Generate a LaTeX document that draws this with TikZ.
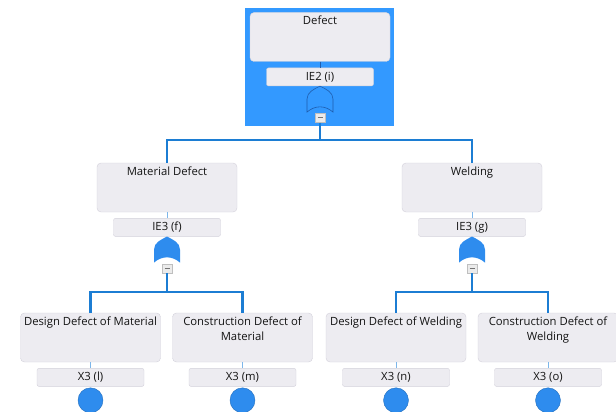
\documentclass[tikz,border=0pt]{standalone}
\usepackage{fontspec}
\setmainfont{Open Sans}
\usetikzlibrary{positioning, calc}

\definecolor{busblue}{HTML}{1C7DD3}
\definecolor{linkblue}{HTML}{7DB6EA}
\definecolor{gateblue}{HTML}{2E8CEE}
\definecolor{gateline}{HTML}{1F5DAE}
\definecolor{hiblue}{HTML}{3399FF}
\definecolor{boxfill}{HTML}{EDECF1}
\definecolor{boxline}{HTML}{D2D0DA}

\tikzset{
  pics/orgate/.style={code={
    \path[pic actions] (-13,26) -- (-13,13)
      .. controls (-13,6) and (-6,3) .. (0,0)
      .. controls (6,3) and (13,6) .. (13,13)
      -- (13,26) .. controls (5,19) and (-5,19) .. cycle;
  }}
}

\begin{document}
\begin{tikzpicture}[x=1pt, y=-1pt, font=\fontsize{11.3}{15.5}\selectfont,
  event/.style={draw=boxline, fill=boxfill, rounded corners=4pt,
    minimum width=140pt, minimum height=49pt, inner sep=0pt},
  evtitle/.style={anchor=north, inner sep=3.5pt, align=center, text=black!92},
  code/.style={draw=boxline, fill=boxfill, rounded corners=2pt,
    minimum width=107pt, minimum height=18pt, inner sep=0pt, text=black!92},
  minus/.style={draw=black!25, fill=black!8, minimum width=10pt,
    minimum height=9pt, inner sep=0pt},
  basic/.style={circle, draw=gateblue!80!black, fill=gateblue,
    minimum size=25pt, inner sep=0pt},
  bus/.style={busblue, line width=2.6pt},
  link/.style={linkblue, line width=1pt}]

  \useasboundingbox (0,0) rectangle (616,412);

  % selected top event
  \fill[hiblue] (245,8) rectangle (394,126);

  % top event
  \node[event, label={[evtitle]north:Defect}] (top) at (320,37) {};
  \node[code, below=6pt of top] (topc) {IE2 (i)};
  \pic[draw=gateline, line width=0.6pt] at (topc.south) {orgate};
  \node[minus, below=27pt of topc] (topm) {\textcolor{black!55}{\rule{5pt}{1.1pt}}};
  \draw[link, gateline] (top) -- (topc);

  % second level
  \node[event, label={[evtitle]north:Material Defect}] (md) at (167,187.5) {};
  \node[code, below=6pt of md] (mdc) {IE3 (f)};
  \pic[fill=gateblue] at (mdc.south) {orgate};
  \node[minus, below=27pt of mdc] (mdm) {\textcolor{black!55}{\rule{5pt}{1.1pt}}};
  \draw[link] (md) -- (mdc);

  \node[event, label={[evtitle]north:Welding}] (wd) at (472,187.5) {};
  \node[code, below=6pt of wd] (wdc) {IE3 (g)};
  \pic[fill=gateblue] at (wdc.south) {orgate};
  \node[minus, below=27pt of wdc] (wdm) {\textcolor{black!55}{\rule{5pt}{1.1pt}}};
  \draw[link] (wd) -- (wdc);

  % basic events
  \node[event, label={[evtitle]north:Design Defect of Material}] (ddm) at (90.5,337.5) {};
  \node[event, label={[evtitle]north:Construction Defect of\\Material}] (cdm) at (242.5,337.5) {};
  \node[event, label={[evtitle]north:Design Defect of Welding}] (ddw) at (396,337.5) {};
  \node[event, label={[evtitle]north:Construction Defect of\\Welding}] (cdw) at (548,337.5) {};

  \node[code, below=6pt of ddm] (ddmc) {X3 (l)};
  \node[code, below=6pt of cdm] (cdmc) {X3 (m)};
  \node[code, below=6pt of ddw] (ddwc) {X3 (n)};
  \node[code, below=6pt of cdw] (cdwc) {X3 (o)};

  \node[basic, below=1pt of ddmc] (ddmb) {};
  \node[basic, below=1pt of cdmc] (cdmb) {};
  \node[basic, below=1pt of ddwc] (ddwb) {};
  \node[basic, below=1pt of cdwc] (cdwb) {};

  \draw[link] (ddm) -- (ddmc);
  \draw[link] (cdm) -- (cdmc);
  \draw[link] (ddw) -- (ddwc);
  \draw[link] (cdw) -- (cdwc);

  % tree connectors
  \draw[bus] (topm.south) -- (topm.south |- 0,140) coordinate (b0);
  \draw[bus] (md.north) |- (b0) -| (wd.north);
  \draw[bus] (mdm.south) -- (mdm.south |- 0,292) coordinate (b1);
  \draw[bus] (ddm.north) |- (b1) -| (cdm.north);
  \draw[bus] (wdm.south) -- (wdm.south |- 0,292) coordinate (b2);
  \draw[bus] (ddw.north) |- (b2) -| (cdw.north);
\end{tikzpicture}
\end{document}
